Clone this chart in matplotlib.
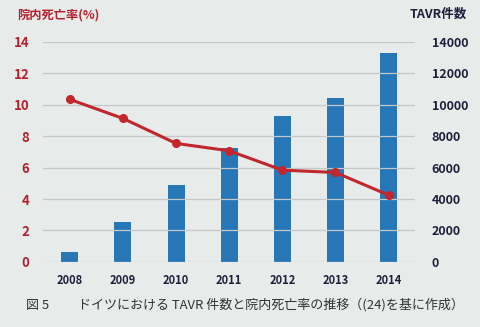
import matplotlib.pyplot as plt

plt.rcParams['font.family'] = ['Noto Sans CJK JP', 'DejaVu Sans']

years = ["2008", "2009", "2010", "2011", "2012", "2013", "2014"]
tavr_cases = [620, 2550, 4870, 7220, 9280, 10400, 13300]
mortality_pct = [10.34, 9.13, 7.54, 7.07, 5.84, 5.69, 4.25]

BG = '#e7ebe9'
BAR = '#2776b6'
LINE = '#c1272d'
RED_TXT = '#b3202e'
NAVY = '#1e1f3b'

fig = plt.figure(figsize=(4.8, 3.27), dpi=100, facecolor=BG)
ax = fig.add_axes([0.09, 0.199, 0.775, 0.673])
ax.set_facecolor('none')
ax2 = ax.twinx()

x = list(range(len(years)))

# bars on the right axis (case counts), drawn beneath the line
ax2.bar(x, tavr_cases, width=0.32, color=BAR, zorder=2)
ax2.set_ylim(0, 14000)
ax2.set_yticks(range(0, 14001, 2000))
ax2.tick_params(axis='y', length=0, pad=12, labelsize=9, labelcolor=NAVY)
for lbl in ax2.get_yticklabels():
    lbl.set_fontweight('bold')

ax.set_ylim(0, 14)
ax.set_yticks(range(0, 15, 2))
ax.set_xlim(-0.5, 6.5)
ax.set_xticks(x)
ax.set_xticklabels(years)
ax.tick_params(axis='y', length=0, pad=10, labelsize=9.5, labelcolor=RED_TXT)
ax.tick_params(axis='x', length=0, pad=9, labelsize=8, labelcolor=NAVY)
for lbl in ax.get_yticklabels() + ax.get_xticklabels():
    lbl.set_fontweight('bold')
ax.grid(axis='y', color='#c4c8c6', linewidth=0.9, zorder=0)
ax.set_axisbelow(True)

# line on top of the bars
ax.set_zorder(ax2.get_zorder() + 1)
ax.plot(x, mortality_pct, color=LINE, linewidth=2.2, marker='o', markersize=5.5, zorder=5)

for a in (ax, ax2):
    for s in a.spines.values():
        s.set_visible(False)

fig.text(0.035, 0.955, '院内死亡率(%)', color=RED_TXT, fontsize=8.8, fontweight='bold', va='center', ha='left')
fig.text(0.972, 0.955, 'TAVR件数', color=NAVY, fontsize=9, fontweight='bold', va='center', ha='right')
fig.text(0.055, 0.068, '図 5　　 ドイツにおける TAVR 件数と院内死亡率の推移（(24)を基に作成）',
         color='#333333', fontsize=9.4, va='center', ha='left')

fig.savefig('out.png', dpi=100, facecolor=BG)
